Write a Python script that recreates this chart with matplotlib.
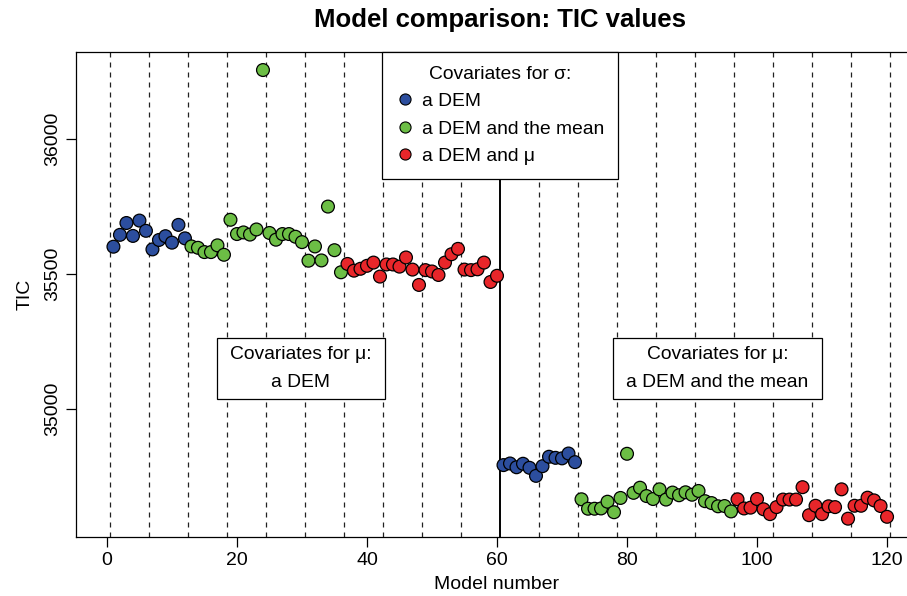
import numpy as np
import matplotlib
matplotlib.use('Agg')
import matplotlib.pyplot as plt
from matplotlib.lines import Line2D
from matplotlib.patches import Rectangle

plt.rcParams['font.family'] = ['Liberation Sans', 'DejaVu Sans']

# TIC per model (models 1..120)
tic = [
    35601, 35645, 35689, 35641, 35698, 35660, 35591, 35626, 35640, 35616, 35682, 35632,
    35602, 35597, 35581, 35581, 35606, 35571, 35701, 35648, 35654, 35646, 35665, 36257,
    35652, 35627, 35648, 35648, 35638, 35618, 35549, 35602, 35550, 35750, 35588, 35506,
    35537, 35512, 35519, 35530, 35542, 35490, 35535, 35535, 35527, 35561, 35516, 35459,
    35514, 35509, 35496, 35542, 35573, 35593, 35516, 35514, 35517, 35542, 35470, 35493,
    34790, 34796, 34782, 34795, 34780, 34750, 34786, 34821, 34817, 34815, 34833, 34801,
    34663, 34628, 34628, 34629, 34654, 34615, 34668, 34832, 34687, 34706, 34675, 34664,
    34700, 34662, 34688, 34678, 34689, 34680, 34694, 34656, 34649, 34637, 34638, 34618,
    34663, 34629, 34632, 34664, 34626, 34608, 34634, 34662, 34662, 34662, 34708, 34604,
    34639, 34608, 34637, 34634, 34700, 34591, 34639, 34639, 34669, 34659, 34638, 34598,
]
model = np.arange(1, len(tic) + 1)

# blocks of models and the sigma covariate used in each
block_sizes = [12, 24, 24, 12, 24, 24]
block_sigma = [0, 1, 2, 0, 1, 2]
sigma_labels = ['a DEM', 'a DEM and the mean', 'a DEM and \u03bc']
sigma_colors = ['#2C4E9E', '#6CBE45', '#E8262A']

mu_labels = ['a DEM', 'a DEM and the mean']

col = np.repeat(block_sigma, block_sizes)

W, H = 907, 596
fig = plt.figure(figsize=(W / 100, H / 100), dpi=100)
ax = fig.add_axes([76 / W, 1 - 537 / H, (918 - 76) / W, (537 - 52) / H])

# separators every 6 models
for b in np.arange(0.5, 121, 6):
    if b == 60.5:
        ax.axvline(b, color='black', lw=1.4, zorder=1)
    else:
        ax.axvline(b, color='#222222', lw=0.9, ls=(0, (4, 4)), zorder=1)

ax.scatter(model, tic, s=85, c=[sigma_colors[i] for i in col],
           edgecolors='black', linewidths=0.9, zorder=3)

ax.set_xlim(-4.76, 124.76)
ax.set_ylim(34523, 36324)
ax.set_xticks([0, 20, 40, 60, 80, 100, 120])
ax.set_yticks([35000, 35500, 36000])
ax.set_yticklabels(['35000', '35500', '36000'], rotation=90, va='center')
ax.tick_params(labelsize=14, length=7, width=0.9)
ax.spines['right'].set_visible(False)
for s in ['left', 'bottom', 'top']:
    ax.spines[s].set_linewidth(0.9)

ax.set_xlabel('Model number', fontsize=14, labelpad=5)
ax.set_ylabel('TIC', fontsize=14, labelpad=8)
fig.text(500 / W, 1 - 20 / H, 'Model comparison: TIC values', fontsize=18.5,
         fontweight='bold', ha='center', va='center')

# legend for sigma covariates
handles = [Line2D([], [], marker='o', ls='none', ms=8, markerfacecolor=c,
                  markeredgecolor='black', markeredgewidth=0.8) for c in sigma_colors]
leg = ax.legend(handles, sigma_labels, title='Covariates for \u03c3:',
                loc='upper center', bbox_to_anchor=((500 - 76) / (918 - 76), 1.0),
                borderaxespad=0, fontsize=13.9, title_fontsize=13.9, frameon=True,
                fancybox=False, edgecolor='black', framealpha=1,
                handletextpad=0.35, handlelength=1.0, labelspacing=0.52, borderpad=0.7)
leg.get_frame().set_linewidth(0.9)
leg.set_zorder(5)

# boxes for mu covariates
for (x0, x1), lab in zip([(16.9, 42.8), (77.8, 110.0)], mu_labels):
    ax.add_patch(Rectangle((x0, 35037), x1 - x0, 35261 - 35037, facecolor='white',
                           edgecolor='black', lw=0.9, zorder=4))
    ax.text((x0 + x1) / 2, 35200, 'Covariates for \u03bc:', ha='center', va='center',
            fontsize=13.9, zorder=5)
    ax.text((x0 + x1) / 2, 35095, lab, ha='center', va='center', fontsize=13.9, zorder=5)

fig.savefig('out.png', dpi=100)
